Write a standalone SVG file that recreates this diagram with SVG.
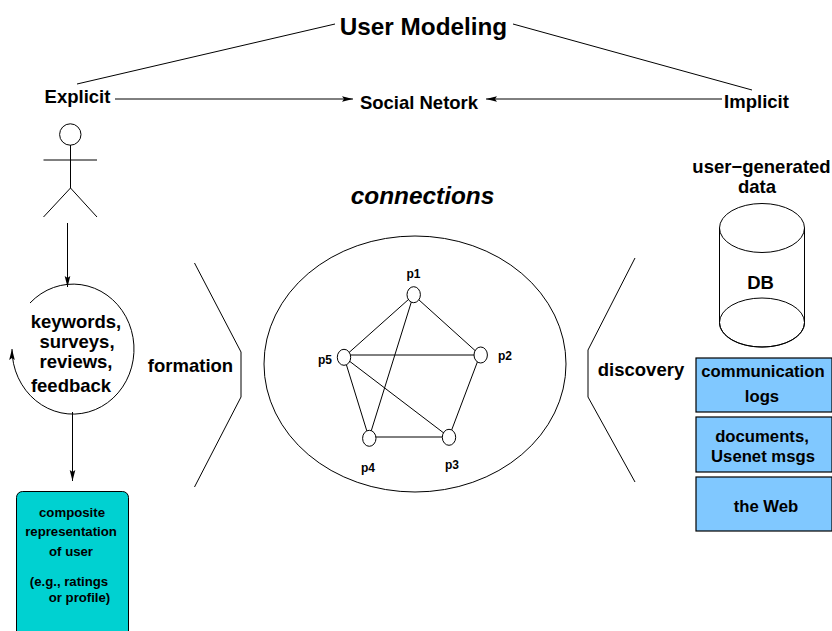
<svg xmlns="http://www.w3.org/2000/svg" width="832" height="631" viewBox="0 0 832 631">
<style>
text{font-family:"Liberation Sans",Arial,sans-serif;font-weight:bold;fill:#000;text-anchor:middle}
.l{fill:none;stroke:#000;stroke-width:1}
.s{fill:#fff;stroke:#000;stroke-width:1}
.f18{font-size:18.5px}
.f17{font-size:16.7px}
.f13{font-size:13.2px}
.f12{font-size:12px}
.b{fill:#80c8ff;stroke:#000;stroke-width:1.2}
</style>
<defs>
<marker id="a" markerUnits="userSpaceOnUse" markerWidth="12" markerHeight="8" refX="11" refY="4" orient="auto"><path d="M0 1.200L11 4L0 6.800L2 4Z" fill="#000"/></marker>
</defs>
<rect width="832" height="631" fill="#fff"/>
<g id="connectors">
<path class="l" d="M77 84L335 24M513 24L752 90"/>
<path class="l" d="M115 99H353" marker-end="url(#a)"/>
<path class="l" d="M722 99H486" marker-end="url(#a)"/>
<path class="l" d="M67.500 223V287" marker-end="url(#a)"/>
<path class="l" d="M72.500 412V481" marker-end="url(#a)"/>
<path class="l" d="M30 303A61 65 0 1 1 12 349" marker-end="url(#a)"/>
<path class="l" d="M194.500 263L241 352V397L194.500 487"/>
<path class="l" d="M635 258L588 350V397L635 482"/>
</g>
<g id="actor">
<circle class="l" cx="70.300" cy="134.500" r="10.700"/>
<path class="l" d="M70.500 145V188M43.500 160H97M70.500 188L43.500 217M70.500 188L97 217"/>
</g>
<g id="network-boundary"><ellipse class="l" cx="415" cy="364" rx="151" ry="128"/></g>
<g id="network-edges">
<path class="l" d="M413.500 295L344 357M413.500 295L480 355M413.500 295L369 438M344 355H480M344 357L449 437M344 357L369 438M480 355L449 437M369 437H449"/>
</g>
<g id="p1"><ellipse class="s" cx="413.700" cy="294.700" rx="6.700" ry="8"/><text class="f12" x="413.500" y="277.500">p1</text></g>
<g id="p2"><ellipse class="s" cx="480.700" cy="355" rx="6.700" ry="8"/><text class="f12" x="505" y="359.500">p2</text></g>
<g id="p3"><ellipse class="s" cx="449" cy="437.300" rx="6.700" ry="8"/><text class="f12" x="452" y="469">p3</text></g>
<g id="p4"><ellipse class="s" cx="369.300" cy="438.300" rx="6.700" ry="8"/><text class="f12" x="368" y="472">p4</text></g>
<g id="p5"><ellipse class="s" cx="344" cy="357.300" rx="6.700" ry="8"/><text class="f12" x="325" y="364">p5</text></g>
<g id="title"><text x="423.500" y="35" font-size="24.300">User Modeling</text></g>
<g id="explicit"><text class="f18" x="77.500" y="103">Explicit</text></g>
<g id="social"><text class="f18" x="419" y="108.500">Social Netork</text></g>
<g id="implicit"><text class="f18" x="756.500" y="108">Implicit</text></g>
<g id="connections"><text x="422.500" y="204" font-size="24.400" font-style="italic">connections</text></g>
<g id="feedback-loop">
<text class="f18"><tspan x="76" y="328">keywords,</tspan><tspan x="77" y="348">surveys,</tspan><tspan x="76" y="368">reviews,</tspan><tspan x="71" y="392">feedback</tspan></text>
</g>
<g id="formation"><text class="f18" x="190.500" y="372">formation</text></g>
<g id="discovery"><text class="f18" x="641" y="376">discovery</text></g>
<g id="composite">
<rect x="16.500" y="491.500" width="112" height="150" rx="6" fill="#00d1d1" stroke="#000" stroke-width="1"/>
<text class="f13"><tspan x="72" y="517">composite</tspan><tspan x="71" y="536">representation</tspan><tspan x="71" y="556">of user</tspan><tspan x="69" y="586">(e.g., ratings</tspan><tspan x="79.500" y="601.500">or profile)</tspan></text>
</g>
<g id="data-label"><text class="f18"><tspan x="761.500" y="173">user−generated</tspan><tspan x="757" y="193">data</tspan></text></g>
<g id="db">
<path class="s" d="M719.500 228V322.500C719.500 336 738 347 762 347C786 347 804.500 336 804.500 322.500V228"/>
<ellipse class="l" cx="762" cy="228" rx="42.500" ry="24.500"/>
<ellipse class="l" cx="762" cy="322.500" rx="42.500" ry="24.500"/>
<text class="f18" x="760.500" y="289">DB</text>
</g>
<g id="logs"><rect class="b" x="696" y="358" width="136" height="54"/><text class="f17"><tspan x="763" y="377">communication</tspan><tspan x="762" y="402">logs</tspan></text></g>
<g id="docs"><rect class="b" x="696" y="417" width="136" height="55"/><text class="f17"><tspan x="762" y="441.500">documents,</tspan><tspan x="763" y="462">Usenet msgs</tspan></text></g>
<g id="web"><rect class="b" x="696" y="477" width="136" height="54"/><text class="f17" x="766" y="512">the Web</text></g>
</svg>
